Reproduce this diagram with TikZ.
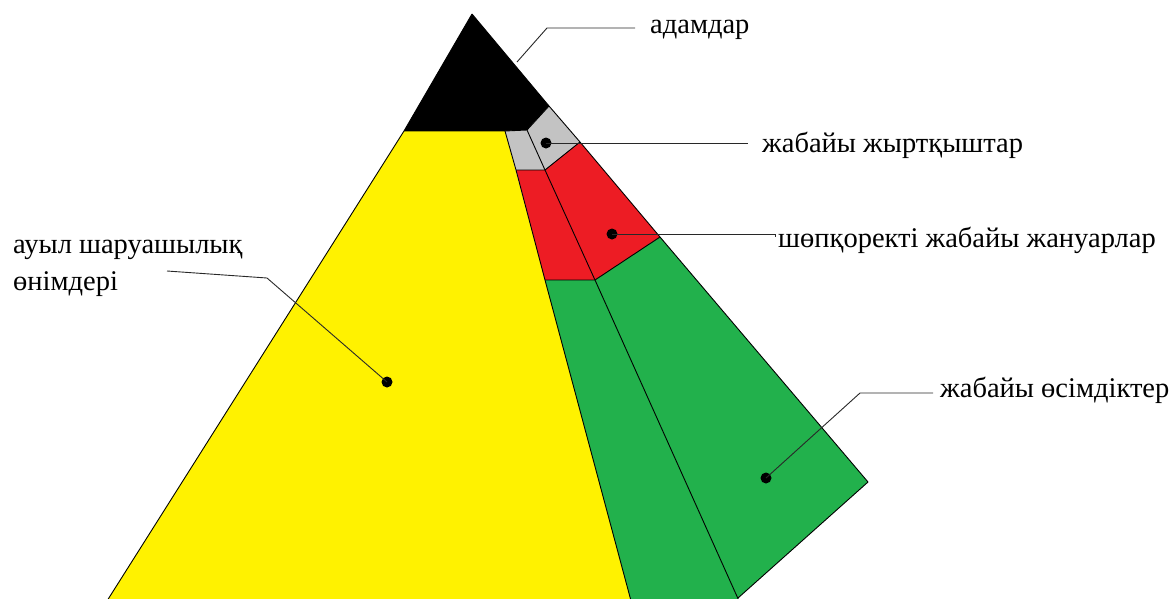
\documentclass[tikz,border=0pt]{standalone}
\usepackage{fontspec}
\setmainfont{Liberation Serif}
\newfontfamily\lblfont{Liberation Serif}
\definecolor{pyel}{RGB}{255,242,0}
\definecolor{pred}{RGB}{237,28,36}
\definecolor{pgrn}{RGB}{34,177,76}
\definecolor{pgry}{RGB}{195,195,195}
\definecolor{lead}{RGB}{40,40,40}
\begin{document}
\begin{tikzpicture}[x=1pt,y=-1pt,
  edge/.style={draw=black,line width=0.9pt,line join=round},
  leader/.style={draw=lead,line width=0.9pt},
  dot/.style={circle,fill=black,inner sep=0pt,minimum size=11pt},
  lbl/.style={anchor=base west,inner sep=0pt,font=\lblfont\fontsize{28.5}{35}\selectfont}]
\useasboundingbox (0,0) rectangle (1176,598);
\clip (0,0) rectangle (1176,598);
% key points
\coordinate (A) at (472,14);
\coordinate (B) at (404,131);
\coordinate (C) at (505,131);
\coordinate (D) at (527,130);
\coordinate (E) at (549,106);
\coordinate (F) at (580,142);
\coordinate (H) at (660,237);
\coordinate (G) at (868,482);
\coordinate (I) at (545,170);
\coordinate (J) at (516,170);
\coordinate (K) at (545,280);
\coordinate (L) at (595,280);
\coordinate (N) at (738,598);
\coordinate (N2) at (744,612);
\coordinate (M) at (634,612);
\coordinate (P) at (100,612);
% fills
\fill[black] (A) -- (B) -- (C) -- (D) -- (E) -- cycle;
\fill[pyel] (B) -- (C) -- (M) -- (P) -- cycle;
\fill[pgry] (C) -- (D) -- (I) -- (J) -- cycle;
\fill[pgry] (D) -- (E) -- (F) -- (I) -- cycle;
\fill[pred] (J) -- (I) -- (L) -- (K) -- cycle;
\fill[pred] (I) -- (F) -- (H) -- (L) -- cycle;
\fill[pgrn] (K) -- (L) -- (N2) -- (M) -- cycle;
\fill[pgrn] (L) -- (H) -- (G) -- (N) -- (N2) -- cycle;
% edges
\draw[edge] (A) -- (B) -- (P);
\draw[edge] (A) -- (E) -- (F) -- (H) -- (G) -- (N);
\draw[edge] (B) -- (C) -- (D) -- (E);
\draw[edge] (C) -- (J) -- (K) -- (M);
\draw[edge] (D) -- (I) -- (L) -- (N2);
\draw[edge] (J) -- (I) -- (F);
\draw[edge] (K) -- (L) -- (H);
% dots
\node[dot] (d1) at (546,143) {};
\node[dot] (d2) at (612,234) {};
\node[dot] (d3) at (766,478) {};
\node[dot] (d4) at (387,382) {};
% labels
\node[lbl] (t0) at (650,33) {адамдар};
\node[lbl] (t1) at (762,152) {жабайы жыртқыштар};
\node[lbl] (t2) at (778,247) {шөпқоректі жабайы жануарлар};
\node[lbl] (t3) at (940,397) {жабайы өсімдіктер};
\node[lbl] (t4) at (13,253) {ауыл шаруашылық};
\node[lbl] (t5) at (13,290) {өнімдері};
% leader coordinates
\coordinate (a0) at (517,62);
\coordinate (a1) at (547,28);
\coordinate (a2) at (635,28);
\coordinate (b1) at (748,143);
\coordinate (c1) at (775,237);
\coordinate (e1) at (860,393);
\coordinate (e2) at (933,393);
\coordinate (f1) at (267,278);
\coordinate (f2) at (167,271);
\draw[leader] (a0) -- (a1) -- (a2);
\draw[leader] (d1.center) -- (b1);
\draw[leader] (d2.center) -- (d2.center -| c1) -- (c1);
\draw[leader] (d3.center) -- (e1) -- (e2);
\draw[leader] (d4.center) -- (f1) -- (f2);
\end{tikzpicture}
\end{document}
